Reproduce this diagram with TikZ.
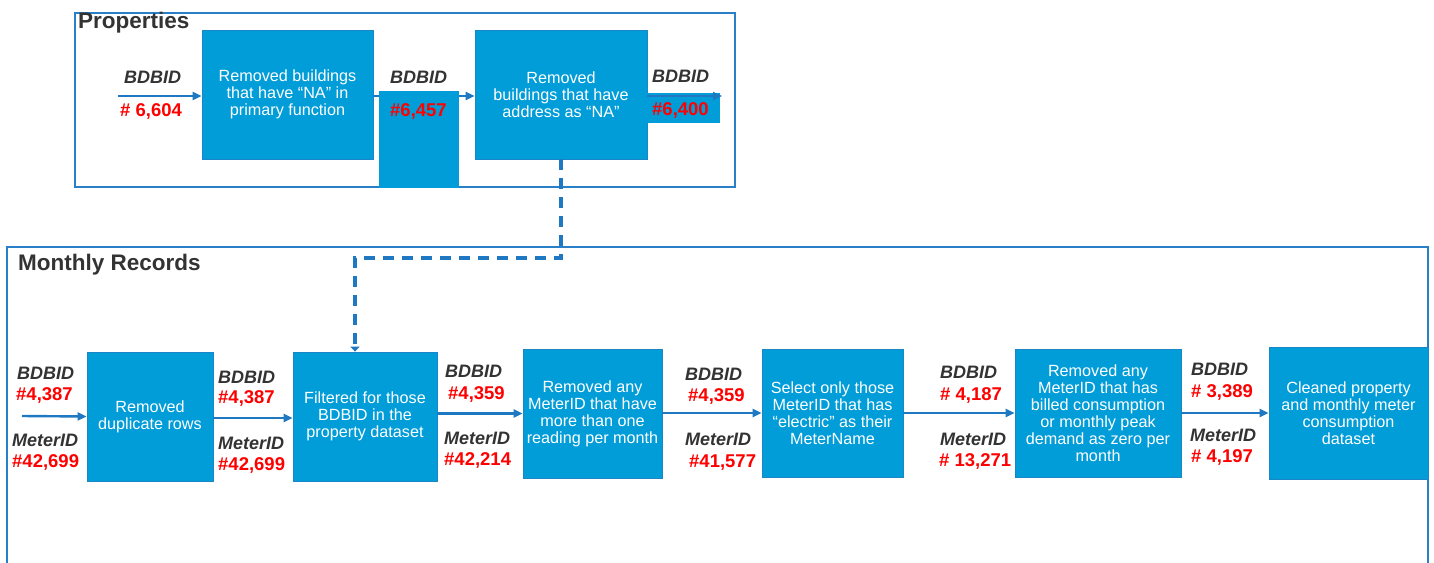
\documentclass[tikz,border=0pt]{standalone}
\usepackage{fontspec}
\setmainfont{Liberation Sans}
\usetikzlibrary{arrows.meta}
\definecolor{boxblue}{HTML}{009DD9}
\definecolor{boxedge}{HTML}{1B86C6}
\definecolor{arrowblue}{HTML}{1E78C2}
\definecolor{framec}{HTML}{2A80C8}
\definecolor{labgray}{HTML}{333333}
\definecolor{numred}{HTML}{FF0000}
\tikzset{
  box/.style={rectangle, fill=boxblue, draw=boxedge, line width=0.8pt, text=white, align=center, inner sep=0pt,
    font=\fontsize{16.2}{17}\selectfont},
  patch/.style={rectangle, fill=boxblue, draw=none, inner sep=0pt},
  lab/.style={anchor=west, inner sep=0pt, text=labgray, font=\fontsize{18}{20}\selectfont\bfseries\itshape},
  num/.style={anchor=west, inner sep=0pt, text=numred, font=\fontsize{18.5}{20}\selectfont\bfseries},
  title/.style={anchor=west, inner sep=0pt, text=labgray, font=\fontsize{22.5}{24}\selectfont\bfseries},
  frame/.style={draw=framec, line width=1.5pt},
  arr/.style={draw=arrowblue, line width=2.4pt, -{Triangle[length=9pt,width=8pt]}},
  dashconn/.style={draw=arrowblue, line width=3.5pt, dash pattern=on 11pt off 8pt, -{Triangle[length=5pt,width=9pt]}}
}
\begin{document}
\begin{tikzpicture}[x=1pt,y=-1pt]
\useasboundingbox[fill=white] (0,0) rectangle (1434,562);

% ---------- Properties ----------
\draw[frame] (75,13) rectangle (735,187);
\node[title] (ptitle) at (78,23) {Properties};

\node[box, minimum width=171pt, minimum height=129pt] (p1) at (287.5,94.5)
  {Removed buildings\\that have “NA” in\\primary function};
\node[box, minimum width=172pt, minimum height=129pt] (p2) at (561,94.5)
  {Removed\\buildings that have\\address as “NA”};

\coordinate (pin) at (118,96);
\draw[arr] (pin) -- (pin -| p1.west);
\draw[arr] (p1.east |- pin) -- (p2.west |- pin);
\node[patch, minimum width=80pt, minimum height=97pt] (m1) at (419,139.5) {};
\node[patch, minimum width=73pt, minimum height=30pt] (m2) at (683.5,108) {};
\coordinate (pout) at (722,96);
\draw[arr] (p2.east |- pout) -- (pout);

\node[lab] (pl1) at (124,77) {BDBID};
\node[num] (pn1) at (120,111) {\# 6,604};
\node[lab] (pl2) at (390,77) {BDBID};
\node[num] (pn2) at (390,111) {\#6,457};
\node[lab] (pl3) at (652,76) {BDBID};
\node[num] (pn3) at (652,110) {\#6,400};

% ---------- Monthly Records ----------
\draw[frame] (7,570) -- (7,247) -- (1428,247) -- (1428,570);
\node[title] (mtitle) at (18,265) {Monthly Records};

\node[box, minimum width=126pt, minimum height=129pt] (b1) at (150,416.5)
  {Removed\\duplicate rows};
\node[box, minimum width=144pt, minimum height=129pt] (b2) at (365,416.5)
  {Filtered for those\\BDBID in the\\property dataset};
\node[box, minimum width=139pt, minimum height=129pt] (b3) at (592.5,413.5)
  {Removed any\\MeterID that have\\more than one\\reading per month};
\node[box, minimum width=141pt, minimum height=128pt] (b4) at (832.5,413)
  {Select only those\\MeterID that has\\“electric” as their\\MeterName};
\node[box, minimum width=166pt, minimum height=128pt] (b5) at (1098,413)
  {Removed any\\MeterID that has\\billed consumption\\or monthly peak\\demand as zero per\\month};
\node[box, minimum width=159pt, minimum height=132pt] (b6) at (1348.5,413)
  {Cleaned property\\and monthly meter\\consumption\\dataset};

\coordinate (min) at (22,416);
\draw[arr] (min) -- (b1.west);
\draw[arr] (b1.east |- 0,418) -- (b2.west |- 0,418);
\draw[arr] (b2.east |- b3.west) -- (b3.west);
\draw[arr] (b3.east |- b4.west) -- (b4.west);
\draw[arr] (b4.east |- b5.west) -- (b5.west);
\draw[arr] (b5.east |- b6.west) -- (b6.west);

% dashed connector
\coordinate (dturn) at (561,258);
\draw[dashconn] (p2.south) -- (dturn) -| ([xshift=-10pt]b2.north);

% labels
\node[lab] (l1a) at (17,373) {BDBID};
\node[num] (n1a) at (16,395) {\#4,387};
\node[lab] (l1b) at (12,440) {MeterID};
\node[num] (n1b) at (12,462) {\#42,699};

\node[lab] (l2a) at (218,377) {BDBID};
\node[num] (n2a) at (218,398) {\#4,387};
\node[lab] (l2b) at (218,443) {MeterID};
\node[num] (n2b) at (218,465) {\#42,699};

\node[lab] (l3a) at (445,371) {BDBID};
\node[num] (n3a) at (448,394) {\#4,359};
\node[lab] (l3b) at (444,438) {MeterID};
\node[num] (n3b) at (444,460) {\#42,214};

\node[lab] (l4a) at (685,374) {BDBID};
\node[num] (n4a) at (688,396) {\#4,359};
\node[lab] (l4b) at (685,439) {MeterID};
\node[num] (n4b) at (689,463) {\#41,577};

\node[lab] (l5a) at (940,372) {BDBID};
\node[num] (n5a) at (940,395) {\# 4,187};
\node[lab] (l5b) at (940,439) {MeterID};
\node[num] (n5b) at (939,461) {\# 13,271};

\node[lab] (l6a) at (1191,369) {BDBID};
\node[num] (n6a) at (1191,392) {\# 3,389};
\node[lab] (l6b) at (1190,435) {MeterID};
\node[num] (n6b) at (1191,457) {\# 4,197};
\end{tikzpicture}
\end{document}
